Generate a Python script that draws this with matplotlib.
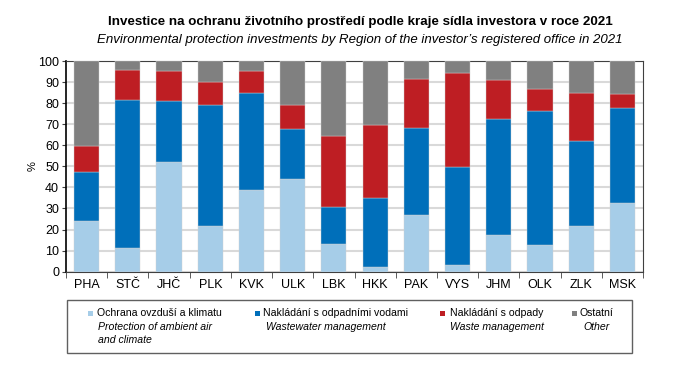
import numpy as np
import matplotlib
matplotlib.use("Agg")
import matplotlib.pyplot as plt
from matplotlib.patches import Rectangle

regions = ["PHA", "STČ", "JHČ", "PLK", "KVK", "ULK", "LBK",
           "HKK", "PAK", "VYS", "JHM", "OLK", "ZLK", "MSK"]

# cumulative tops (%)
top_air = [23.9, 11.1, 52.1, 21.7, 38.7, 43.9, 13.3,
           2.2, 27.0, 3.2, 17.5, 12.7, 21.6, 32.7]
top_water = [47.1, 81.7, 80.8, 79.3, 85.0, 67.8, 30.5,
             35.1, 68.0, 49.7, 72.7, 76.5, 62.0, 77.9]
top_waste = [59.7, 95.7, 95.3, 90.0, 95.3, 79.1, 64.4,
             69.5, 91.6, 94.4, 91.1, 86.8, 84.9, 84.4]

air = np.array(top_air)
water = np.array(top_water) - air
waste = np.array(top_waste) - np.array(top_water)
other = 100 - np.array(top_waste)

series_cz = ["Ochrana ovzduší a klimatu", "Nakládání s odpadními vodami",
             "Nakládání s odpady", "Ostatní"]
series_en = ["Protection of ambient air\nand climate", "Wastewater management",
             "Waste management", "Other"]
colors = ["#A6CDE8", "#006FBA", "#BE1E23", "#808080"]

plt.rcParams["font.family"] = ["Liberation Sans", "DejaVu Sans"]

W, H = 698, 378
fig = plt.figure(figsize=(W / 100, H / 100), dpi=100)
ax = fig.add_axes([66 / W, 1 - 271.7 / H, (643 - 66) / W, (271.7 - 61) / H])

x = np.arange(len(regions))
bottom = np.zeros(len(regions))
for vals, c in zip([air, water, waste, other], colors):
    ax.bar(x, vals, 0.61, bottom=bottom, color=c, edgecolor="#d0d0d0",
           linewidth=0.3, zorder=3)
    bottom += vals

ax.set_xlim(-0.5, len(regions) - 0.5)
ax.set_ylim(0, 100)
ax.set_yticks(range(0, 101, 10))
ax.yaxis.grid(True, color="#D9D9D9", linewidth=1.5, zorder=0)
ax.set_xticks(x)
ax.set_xticklabels(regions, fontsize=9)
ax.set_xticks(np.arange(-0.5, len(regions), 1), minor=True)
ax.tick_params(axis="x", which="major", length=0, pad=5)
ax.tick_params(axis="x", which="minor", length=4, color="#404040")
ax.tick_params(axis="y", labelsize=9, length=3, pad=2, color="#404040")
for s in ax.spines.values():
    s.set_color("#404040")
    s.set_linewidth(0.8)
ax.spines["left"].set_color("black")
ax.spines["left"].set_linewidth(1.2)
ax.set_ylabel("%", fontsize=8, labelpad=0)

fig.text(360 / W, 1 - 22 / H,
         "Investice na ochranu životního prostředí podle kraje sídla investora v roce 2021",
         ha="center", va="center", fontsize=9.6, fontweight="bold",
         family=["Liberation Sans Narrow", "Liberation Sans", "DejaVu Sans"])
fig.text(360 / W, 1 - 40 / H,
         "Environmental protection investments by Region of the investor\u2019s registered office in 2021",
         ha="center", va="center", fontsize=9.5, style="italic")

# legend box
fig.patches.append(Rectangle((67 / W, 1 - 353 / H), (632 - 67) / W, 53 / H,
                             transform=fig.transFigure, facecolor="white",
                             edgecolor="#606060", linewidth=1.0))
sq_x = [88, 255, 440, 572]
txt_x = [97, 263, 450, 579]
en_x = [98, 266, 450, 583]
for i in range(4):
    fig.patches.append(Rectangle((sq_x[i] / W, 1 - 316 / H), 5 / W, 5 / H,
                                 transform=fig.transFigure,
                                 facecolor=colors[i], edgecolor="none"))
    fig.text(txt_x[i] / W, 1 - 313 / H, series_cz[i], ha="left", va="center",
             fontsize=7.6)
    fig.text(en_x[i] / W, 1 - 322 / H, series_en[i], ha="left", va="top",
             fontsize=7.6, style="italic", linespacing=1.35)

fig.savefig("out.png", dpi=100)
